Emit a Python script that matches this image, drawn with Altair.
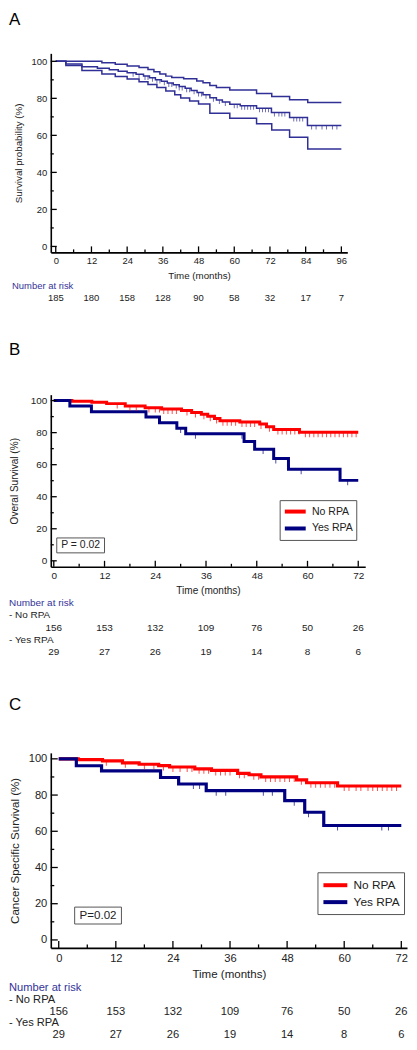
import altair as alt
import pandas as pd

FONT = "Liberation Sans"
RED = "#ff0000"
NAVY = "#000080"
BLUE_A = "#2f2f96"
HEAD = "#333399"
INK = "#222222"

# ---------------- Panel A data ----------------
a_main_t = [0, 3.4, 8.8, 14, 18, 21, 24, 27, 29.5, 31.5, 33.5, 35.5, 37.5, 39.5, 41.5, 43.5, 45.5, 47.5, 49.5, 51.8, 54, 56, 58.5, 62, 67.5, 72.5, 78.6, 84.6, 96]
a_main_s = [100, 98.5, 97.0, 96.2, 95.4, 94.6, 93.8, 93.0, 92.1, 91.1, 90.1, 89.2, 88.3, 87.4, 86.4, 85.4, 84.3, 83.1, 81.9, 80.3, 79.1, 78.0, 76.8, 76.0, 74.6, 72.3, 69.6, 65.3, 65.3]
a_up_t = [0, 15.5, 20, 24, 28, 31, 33, 35, 37, 39, 43, 47.4, 49.5, 51.8, 54, 58.5, 67.5, 72.6, 78.6, 84.7, 96]
a_up_s = [100, 99.2, 98.4, 97.5, 96.6, 95.6, 94.4, 93.2, 92.0, 91.2, 90.6, 89.4, 88.4, 86.9, 85.9, 84.5, 82.6, 81.0, 79.3, 77.8, 77.8]
a_lo_t = [0, 3.4, 8.8, 15.5, 20, 24, 28, 31, 34, 37, 40, 42, 45, 48, 51.8, 58.5, 67.5, 72.6, 78.6, 84.7, 96]
a_lo_s = [100, 97.8, 95.0, 93.2, 91.8, 90.4, 88.9, 87.5, 85.8, 84.0, 82.0, 80.2, 78.6, 77.0, 72.0, 69.3, 66.3, 62.9, 59.0, 52.7, 52.7]
a_cens_t = [26, 28, 30, 31, 32.5, 34, 35, 36.5, 38, 39, 40.5, 41.5, 42.5, 44, 45, 46.5, 48, 49, 50.5, 53, 55, 57, 60, 61, 62.5, 63.5, 64.5, 65.5, 66.5, 68.5, 69.5, 70.5, 71.5, 73.5, 75, 76, 77, 80, 81, 82, 83, 86, 87.5, 89.5, 91, 93, 94.5]
a_risk_t = [0, 12, 24, 36, 48, 60, 72, 84, 96]
a_risk_n = [185, 180, 158, 128, 90, 58, 32, 17, 7]

# ---------------- Panel B data ----------------
b_no_t = [0, 4.3, 9, 12.5, 16.9, 21.6, 25.5, 30.2, 32.6, 34.9, 36.4, 38, 39.3, 44, 48.7, 50.3, 52, 58.1, 72]
b_no_s = [100, 99.6, 98.9, 98.1, 96.6, 95.6, 94.8, 93.8, 92.6, 91.5, 90.2, 88.8, 87.4, 86.6, 85.4, 83.6, 82.0, 80.3, 80.3]
b_yes_t = [0, 3.8, 8.9, 21.8, 25, 29.1, 31.2, 45, 47.5, 52, 55.5, 67.7, 72]
b_yes_s = [100, 96.6, 93.1, 89.7, 86.2, 82.8, 79.3, 74.4, 69.7, 63.8, 57.1, 50.2, 50.2]
b_no_cens = [15, 18, 19.5, 22.5, 24, 25, 26, 27, 28, 29, 31.5, 33.5, 35.5, 37, 38.5, 40, 41, 42, 43, 44.5, 45.5, 46.5, 47.5, 49, 51, 53, 54, 55, 56, 57, 58, 59.5, 60.5, 61.5, 62.5, 63.5, 64.5, 65.5, 66.5, 67.5, 68.5, 69.5, 70.5, 71.5]
b_yes_cens = [30, 33.5, 44.5, 49.5, 52.5, 58.5, 69.5]
b_p_label = ["P = 0.02"]

# ---------------- Panel C data ----------------
c_no_t = [0, 4.1, 9.2, 13.4, 16.9, 21, 23.3, 28.6, 32.1, 37.6, 40, 42.5, 50, 52.1, 58.6, 72]
c_no_s = [100, 99.6, 98.9, 97.8, 97.0, 96.3, 95.5, 94.5, 93.6, 92.0, 91.2, 90.0, 88.4, 86.8, 85.0, 85.0]
c_yes_t = [0, 3.7, 9.0, 21.4, 25.2, 31.0, 47.5, 51.7, 55.7, 72]
c_yes_s = [100, 96.2, 93.4, 89.7, 86.1, 82.4, 76.9, 70.5, 63.2, 63.2]
c_no_cens = [10, 14, 18, 20, 22, 24, 25.5, 27, 28, 29.5, 30.5, 31.5, 33, 34, 35, 36, 38, 39, 41, 42, 43.5, 44.5, 45.5, 46.5, 47.5, 48.5, 49.5, 51, 53, 54, 55, 56, 57, 58, 60, 61, 62.5, 63.5, 65, 66, 67, 68, 69, 70, 71]
c_yes_cens = [28.3, 29.6, 33.1, 35.1, 43, 44.9, 49.5, 52.5, 58.6, 67.9, 69.3]
c_p_label = ["P=0.02"]

risk_t = [0, 12, 24, 36, 48, 60, 72]
risk_no = [156, 153, 132, 109, 76, 50, 26]
risk_yes = [29, 27, 26, 19, 14, 8, 6]
groups = ["No RPA", "Yes RPA"]
risk_head = ["Number at risk"]
risk_rows = ["- No RPA", "- Yes RPA"]
panel_letters = ["A", "B", "C"]

x_major_a = [0, 12, 24, 36, 48, 60, 72, 84, 96]
x_minor_a = [6, 18, 30, 42, 54, 66, 78, 90]
x_major_bc = [0, 12, 24, 36, 48, 60, 72]
x_minor_bc = [6, 18, 30, 42, 54, 66]
y_major = [0, 20, 40, 60, 80, 100]
y_minor = [10, 30, 50, 70, 90]


def step_at(ts, ss, t):
    v = ss[0]
    for ti, si in zip(ts, ss):
        if ti <= t:
            v = si
    return v


def curve_df(name, ts, ss):
    return pd.DataFrame({"group": name, "t": ts, "s": ss})


def cens_df(name, ts, ss, cts):
    return pd.DataFrame({"group": name, "t": cts, "s": [step_at(ts, ss, c) for c in cts]})


def enc_x(dom, values, fs_lab, fs_tit, lab_pad, title_y):
    return alt.X("t:Q", title="Time (months)",
                 scale=alt.Scale(domain=dom, nice=False, zero=False),
                 axis=alt.Axis(values=values, grid=False, ticks=False, tickSize=0,
                               domainColor="black", domainWidth=1.6,
                               labelFont=FONT, labelFontSize=fs_lab, labelColor=INK,
                               labelPadding=lab_pad, labelFlush=False,
                               titleFont=FONT, titleFontSize=fs_tit, titleFontWeight="normal",
                               titleColor=INK, titleY=title_y, titleBaseline="top"))


def enc_y(dom, title, fs_lab, fs_tit, title_x):
    return alt.Y("s:Q", title=title,
                 scale=alt.Scale(domain=dom, nice=False, zero=False),
                 axis=alt.Axis(values=y_major, grid=False, ticks=False, tickSize=0,
                               domainColor="black", domainWidth=1.6,
                               labelFont=FONT, labelFontSize=fs_lab, labelColor=INK,
                               labelPadding=4, labelFlush=False,
                               titleFont=FONT, titleFontSize=fs_tit, titleFontWeight="normal",
                               titleColor=INK, titleX=title_x, titleBaseline="middle"))


def tick_layers(X, Y, h, xmaj, xmin, L):
    lay = []
    for vals, ln in ((xmaj, L), (xmin, L / 2)):
        lay.append(alt.Chart(pd.DataFrame({"t": vals})).mark_rule(color="black", strokeWidth=1.3)
                   .encode(x=X, y=alt.value(h), y2=alt.value(h - ln)))
    for vals, ln in ((y_major, L), (y_minor, L / 2)):
        lay.append(alt.Chart(pd.DataFrame({"s": vals})).mark_rule(color="black", strokeWidth=1.3)
                   .encode(y=Y, x=alt.value(0), x2=alt.value(ln)))
    return lay


def letter_layer(txt, ypix):
    return alt.Chart(pd.DataFrame({"label": [txt]})).mark_text(
        align="left", baseline="top", font=FONT, fontSize=17, color="black").encode(
        x=alt.value(-42), y=alt.value(ypix), text="label:N")


def risk_chart(w, h, xdom, rows_y, head_row, label_rows, num_rows, fs, label_x):
    lo, hi = rows_y
    X = alt.X("t:Q", scale=alt.Scale(domain=xdom, nice=False, zero=False), axis=None)
    Y = alt.Y("row:Q", scale=alt.Scale(domain=[lo, hi], nice=False, zero=False, reverse=True), axis=None)
    head = alt.Chart(pd.DataFrame(head_row)).mark_text(
        align="left", baseline="middle", font=FONT, fontSize=fs, color=HEAD).encode(
        x=alt.value(label_x), y=Y, text="label:N")
    layers = [head]
    if label_rows is not None:
        layers.append(alt.Chart(pd.DataFrame(label_rows)).mark_text(
            align="left", baseline="middle", font=FONT, fontSize=fs, color=INK).encode(
            x=alt.value(label_x), y=Y, text="label:N"))
    layers.append(alt.Chart(pd.DataFrame(num_rows)).mark_text(
        align="center", baseline="middle", font=FONT, fontSize=fs, color=INK).encode(
        x=X, y=Y, text="n:Q"))
    return alt.layer(*layers).properties(width=w, height=h)


# ================= Panel A =================
A_W, A_H = 298, 200
A_XD, A_YD = [-1.67, 98.0], [-3.2, 104.3]
XA = enc_x(A_XD, x_major_a, 9.5, 9.8, 3.5, 18)
YA = enc_y(A_YD, "Survival probability (%)", 9.5, 9.8, -32.5)
a_curves = pd.concat([curve_df("upper", a_up_t, a_up_s), curve_df("lower", a_lo_t, a_lo_s),
                      curve_df("main", a_main_t, a_main_s)])
a_lines = alt.Chart(a_curves).mark_line(interpolate="step-after", color=BLUE_A).encode(
    x=XA, y=YA, detail="group:N",
    strokeWidth=alt.StrokeWidth("group:N", scale=alt.Scale(domain=["upper", "lower", "main"], range=[1.5, 1.5, 2.6]), legend=None))
a_cens = alt.Chart(cens_df("main", a_main_t, a_main_s, a_cens_t)).mark_tick(
    orient="vertical", size=4, thickness=1, yOffset=2, color=BLUE_A).encode(x=XA, y=YA)
kmA = alt.layer(a_lines, a_cens, *tick_layers(XA, YA, A_H, x_major_a, x_minor_a, 6),
                letter_layer(panel_letters[0], -41)).properties(width=A_W, height=A_H)
riskA = risk_chart(A_W, 143, A_XD, (-33.5 / 12, (143 - 33.5) / 12),
                   {"row": [0], "label": risk_head}, None,
                   {"row": [1] * len(a_risk_t), "t": a_risk_t, "n": a_risk_n}, 9.5, -39)


# ================= Panels B and C =================
def km_two(no_t, no_s, yes_t, yes_s, no_c, yes_c, w, h, xd, yd, ytitle, fs_lab, fs_tit, lab_pad,
           title_y, title_x, lw, leg, pbox, ptxt, p_label, tick_len, letter_txt, letter_y):
    X = enc_x(xd, x_major_bc, fs_lab, fs_tit, lab_pad, title_y)
    Y = enc_y(yd, ytitle, fs_lab, fs_tit, title_x)
    r = leg["row"] / 2.0
    k = leg["sym"] / r - 1
    color = alt.Color("group:N", title=None,
                      scale=alt.Scale(domain=groups, range=[RED, NAVY]),
                      legend=alt.Legend(orient="none", legendX=leg["x"], legendY=leg["y"],
                                        symbolType="M-1,0H%.3f" % k, symbolStrokeWidth=4,
                                        symbolSize=leg["row"] ** 2, labelFont=FONT,
                                        labelFontSize=leg["fs"], labelColor=INK,
                                        labelOffset=leg["lab"] - leg["row"],
                                        strokeColor="#555555", fillColor="white",
                                        padding=leg["pad"], rowPadding=0))
    curves = pd.concat([curve_df(groups[0], no_t, no_s), curve_df(groups[1], yes_t, yes_s)])
    base = alt.Chart(curves).mark_line(interpolate="step-after", strokeWidth=lw)
    red_line = base.transform_filter(alt.datum.group == groups[0]).encode(x=X, y=Y, color=color)
    blue_line = base.transform_filter(alt.datum.group == groups[1]).encode(x=X, y=Y, color=color)
    red_c = alt.Chart(cens_df(groups[0], no_t, no_s, no_c)).mark_tick(
        orient="vertical", size=5, thickness=1, yOffset=2.5, color=RED).encode(x=X, y=Y)
    blue_c = alt.Chart(cens_df(groups[1], yes_t, yes_s, yes_c)).mark_tick(
        orient="vertical", size=5, thickness=1, yOffset=2.5, color=NAVY).encode(x=X, y=Y)
    pdf = pd.DataFrame({"label": p_label})
    prect = alt.Chart(pdf).mark_rect(fill="white", stroke="#555555", strokeWidth=1).encode(
        x=alt.value(pbox[0]), x2=alt.value(pbox[1]), y=alt.value(pbox[2]), y2=alt.value(pbox[3]))
    ptext = alt.Chart(pdf).mark_text(align="center", baseline="middle", font=FONT,
                                     fontSize=ptxt[2], color=INK).encode(
        x=alt.value(ptxt[0]), y=alt.value(ptxt[1]), text="label:N")
    return alt.layer(red_line, blue_line, red_c, blue_c,
                     *tick_layers(X, Y, h, x_major_bc, x_minor_bc, tick_len),
                     prect, ptext, letter_layer(letter_txt, letter_y)).properties(width=w, height=h)


B_W, B_H = 316, 173
B_XD, B_YD = [-0.71, 73.65], [-3.73, 103.7]
kmB = km_two(b_no_t, b_no_s, b_yes_t, b_yes_s, b_no_cens, b_yes_cens, B_W, B_H, B_XD, B_YD,
             "Overal Survival (%)", 10, 10.1, 3.5, 19.3, -36.5, 3,
             {"x": 230, "y": 106, "sym": 21, "row": 12.6, "lab": 25, "pad": 3, "fs": 10.6},
             (6, 54, 144, 159), (30, 151.5, 10.5), b_p_label, 6, panel_letters[1], -53)

head_bc = {"row": [0], "label": risk_head}
rows_bc = {"row": [1, 3], "label": risk_rows}
nums_bc = {"row": [2] * len(risk_t) + [4] * len(risk_t), "t": risk_t + risk_t, "n": risk_no + risk_yes}
riskB = risk_chart(B_W, 187, B_XD, (-36.7 / 12.25, (187 - 36.7) / 12.25),
                   head_bc, rows_bc, nums_bc, 10, -42)

C_W, C_H = 358, 196
C_XD, C_YD = [-1.67, 73.2], [-4.4, 103.3]
kmC = km_two(c_no_t, c_no_s, c_yes_t, c_yes_s, c_no_cens, c_yes_cens, C_W, C_H, C_XD, C_YD,
             "Cancer Specific Survival (%)", 11.2, 11.6, 4.5, 21.2, -35, 3.2,
             {"x": 268, "y": 120, "sym": 24, "row": 14, "lab": 28.3, "pad": 4, "fs": 11.9},
             (24, 71, 155, 172), (47.5, 163.5, 11.6), c_p_label, 7, panel_letters[2], -56)
riskC = risk_chart(C_W, 92, C_XD, (-40.5 / 11.75, (92 - 40.5) / 11.75),
                   head_bc, rows_bc, nums_bc, 11.2, -42)

chart = alt.vconcat(kmA, riskA, kmB, riskB, kmC, riskC, spacing=0, bounds="flush").resolve_scale(
    color="independent").properties(padding={"left": 0, "top": 0, "right": 0, "bottom": 0}).configure(
    font=FONT, padding=0).configure_view(stroke="transparent")

chart.save("out.html", embed_options={"renderer": "svg", "actions": False})
